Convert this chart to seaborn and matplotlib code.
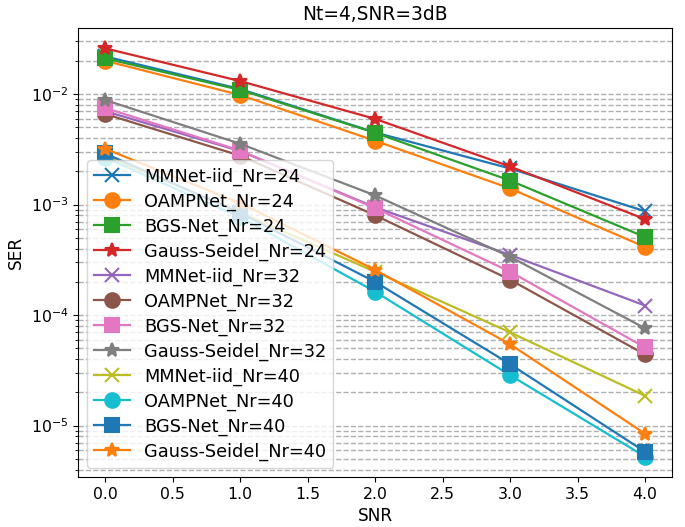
import matplotlib
matplotlib.use("Agg")
import matplotlib.pyplot as plt
import seaborn as sns
import pandas as pd
import numpy as np

snr = [0, 1, 2, 3, 4]

names = ["MMNet-iid_Nr=24", "OAMPNet_Nr=24", "BGS-Net_Nr=24", "Gauss-Seidel_Nr=24",
         "MMNet-iid_Nr=32", "OAMPNet_Nr=32", "BGS-Net_Nr=32", "Gauss-Seidel_Nr=32",
         "MMNet-iid_Nr=40", "OAMPNet_Nr=40", "BGS-Net_Nr=40", "Gauss-Seidel_Nr=40"]

mmnet_24 = [0.0219, 0.0111, 0.00449, 0.00212, 0.00087]
oamp_24 = [0.0200, 0.0098, 0.00378, 0.00140, 0.000413]
bgs_24 = [0.0210, 0.0109, 0.00446, 0.00165, 0.000508]
gs_24 = [0.0259, 0.0131, 0.00596, 0.00221, 0.000738]

mmnet_32 = [0.0070, 0.00305, 0.000946, 0.00035, 0.000122]
oamp_32 = [0.0066, 0.00277, 0.00080, 0.000209, 4.4e-5]
bgs_32 = [0.00748, 0.00308, 0.00093, 0.000247, 5.1e-5]
gs_32 = [0.00883, 0.00355, 0.00121, 0.000337, 7.6e-5]

mmnet_40 = [0.0028, 0.00085, 0.000247, 6.98e-5, 1.86e-5]
oamp_40 = [0.00266, 0.00077, 0.000163, 2.86e-5, 5.25e-6]
bgs_40 = [0.0029, 0.00084, 0.000200, 3.6e-5, 5.8e-6]
gs_40 = [0.0032, 0.00103, 0.000257, 5.45e-5, 8.45e-6]

series = [mmnet_24, oamp_24, bgs_24, gs_24,
          mmnet_32, oamp_32, bgs_32, gs_32,
          mmnet_40, oamp_40, bgs_40, gs_40]
markers = ["x", "o", "s", "*"] * 3
colors = sns.color_palette("tab10", 10)
colors = colors + colors[:2]

fig, ax = plt.subplots(figsize=(6.85, 5.27), dpi=100)
for name, vals, m, c in zip(names, series, markers, colors):
    df = pd.DataFrame({"SNR": snr, "SER": vals})
    sns.lineplot(data=df, x="SNR", y="SER", marker=m, markersize=10.5, color=c,
                 markeredgecolor=c, markeredgewidth=1.5, linewidth=1.6,
                 label=name, ax=ax)

ax.set_yscale("log")
ax.grid(True, which="both", axis="y", linestyle="--", color="#b0b0b0", linewidth=1)
ax.set_title("Nt=4,SNR=3dB", fontsize=13.4)
ax.set_xlabel("SNR", fontsize=12.2)
ax.set_ylabel("SER", fontsize=12.2)
ax.tick_params(labelsize=11.3)
ax.legend(loc="lower left", fontsize=12.8, labelspacing=0.38)
fig.subplots_adjust(left=0.114, right=0.981, top=0.947, bottom=0.095)
fig.savefig("out.png", dpi=100)
